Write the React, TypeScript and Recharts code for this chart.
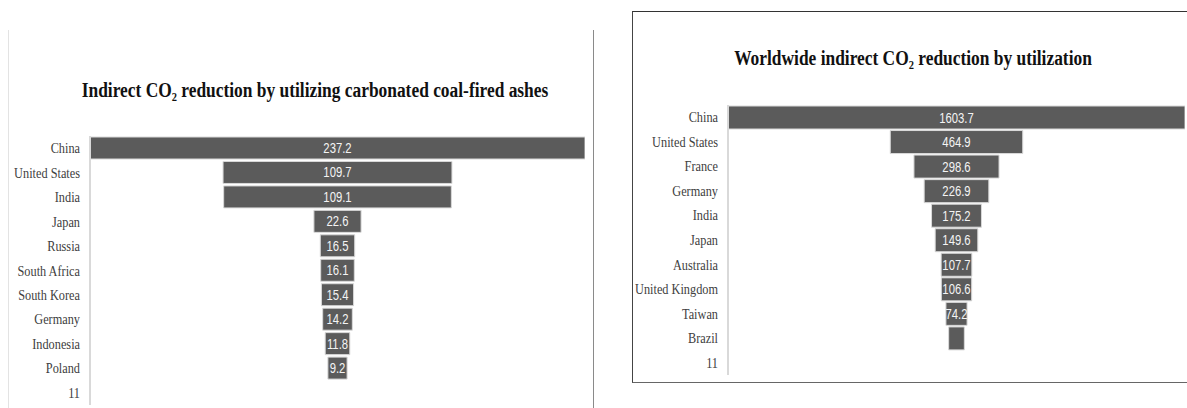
import { BarChart, Bar, XAxis, YAxis, LabelList } from "recharts";

// left panel: carbonated coal-fired ashes
const ashCountries = [
  "China",
  "United States",
  "India",
  "Japan",
  "Russia",
  "South Africa",
  "South Korea",
  "Germany",
  "Indonesia",
  "Poland",
  "11",
];
const ashValues: (number | null)[] = [237.2, 109.7, 109.1, 22.6, 16.5, 16.1, 15.4, 14.2, 11.8, 9.2, null];

// right panel: worldwide utilization
const worldCountries = [
  "China",
  "United States",
  "France",
  "Germany",
  "India",
  "Japan",
  "Australia",
  "United Kingdom",
  "Taiwan",
  "Brazil",
  "11",
];
const worldValues: (number | null)[] = [1603.7, 464.9, 298.6, 226.9, 175.2, 149.6, 107.7, 106.6, 74.2, 55, null];

const leftTitle = "Indirect CO₂ reduction by utilizing carbonated coal-fired ashes";
const rightTitle = "Worldwide indirect CO₂ reduction by utilization";

const SERIF = "'Liberation Serif', 'Times New Roman', serif";
const SANS = "'Liberation Sans', Arial, sans-serif";

// funnel: an invisible spacer bar pushes each value bar to the centre
function funnelRows(cats: string[], vals: (number | null)[]) {
  const max = Math.max(...(vals.filter((v) => v != null) as number[]));
  const rows = cats.map((name, i) => {
    const v = vals[i];
    return { name, value: v, pad: v == null ? null : (max - v) / 2 };
  });
  return { rows, max };
}

function renderCategoryTick(props: any) {
  const { x, y, payload } = props;
  return (
    <g transform={`translate(${x},${y}) scale(0.82,1)`}>
      <text x={0} y={0} dy={5} textAnchor="end" fill="#404040" fontFamily={SERIF} fontSize={15}>
        {payload.value}
      </text>
    </g>
  );
}

function renderValueLabel(props: any) {
  const { x, y, width, height, value } = props;
  if (value == null || width < 17) return null;
  const cx = Number(x) + Number(width) / 2;
  const cy = Number(y) + Number(height) / 2;
  return (
    <g transform={`translate(${cx},${cy}) scale(0.78,1)`}>
      <text x={0} y={0} dy={5} textAnchor="middle" fill="#f4f4f4" fontFamily={SANS} fontSize={14.5}>
        {value}
      </text>
    </g>
  );
}

interface FunnelProps {
  cats: string[];
  vals: (number | null)[];
  width: number;
  height: number;
  axisWidth: number;
  margin: { top: number; right: number; bottom: number; left: number };
}

function Funnel({ cats, vals, width, height, axisWidth, margin }: FunnelProps) {
  const { rows, max } = funnelRows(cats, vals);
  return (
    <BarChart
      width={width}
      height={height}
      data={rows}
      layout="vertical"
      margin={margin}
      barCategoryGap={1}
    >
      <XAxis type="number" domain={[0, max]} hide allowDataOverflow />
      <YAxis
        type="category"
        dataKey="name"
        width={axisWidth}
        interval={0}
        tickLine={false}
        tickSize={6}
        tickMargin={4}
        axisLine={{ stroke: "#d9d9d9", strokeWidth: 2 }}
        tick={renderCategoryTick}
      />
      <Bar dataKey="pad" stackId="f" fill="transparent" isAnimationActive={false} />
      <Bar
        dataKey="value"
        stackId="f"
        fill="#5b5b5b"
        stroke="#d9d9d9"
        strokeWidth={1}
        isAnimationActive={false}
      >
        <LabelList dataKey="value" content={renderValueLabel} />
      </Bar>
    </BarChart>
  );
}

export default function App() {
  return (
    <div
      style={{
        position: "absolute",
        left: 0,
        top: 0,
        width: 1187,
        height: 408,
        overflow: "hidden",
        background: "#fff",
      }}
    >
      {/* panel frames */}
      <div
        style={{
          position: "absolute",
          left: 8,
          top: 30,
          width: 584,
          height: 390,
          borderLeft: "1px solid #e3e3e3",
          borderRight: "1.5px solid #8a8a8a",
        }}
      />
      <div
        style={{
          position: "absolute",
          left: 632,
          top: 11,
          width: 560,
          height: 370,
          borderLeft: "1.5px solid #444",
          borderTop: "1.5px solid #333",
          borderBottom: "1.5px solid #666",
        }}
      />

      <div style={{ position: "absolute", left: 8, top: 60 }}>
        <Funnel
          cats={ashCountries}
          vals={ashValues}
          width={585}
          height={348}
          axisWidth={82}
          margin={{ top: 76, right: 8, bottom: 3, left: 0 }}
        />
      </div>

      <div style={{ position: "absolute", left: 632, top: 11 }}>
        <Funnel
          cats={worldCountries}
          vals={worldValues}
          width={555}
          height={371}
          axisWidth={96}
          margin={{ top: 94, right: 2, bottom: 7, left: 0 }}
        />
      </div>

      {/* titles */}
      <svg
        width={1187}
        height={408}
        style={{ position: "absolute", left: 0, top: 0, pointerEvents: "none" }}
      >
        <g transform="translate(315,97) scale(0.87,1)">
          <text textAnchor="middle" fontFamily={SERIF} fontWeight="bold" fontSize={20} fill="#111">
            {leftTitle}
          </text>
        </g>
        <g transform="translate(913,65) scale(0.87,1)">
          <text textAnchor="middle" fontFamily={SERIF} fontWeight="bold" fontSize={20} fill="#111">
            {rightTitle}
          </text>
        </g>
      </svg>
    </div>
  );
}
